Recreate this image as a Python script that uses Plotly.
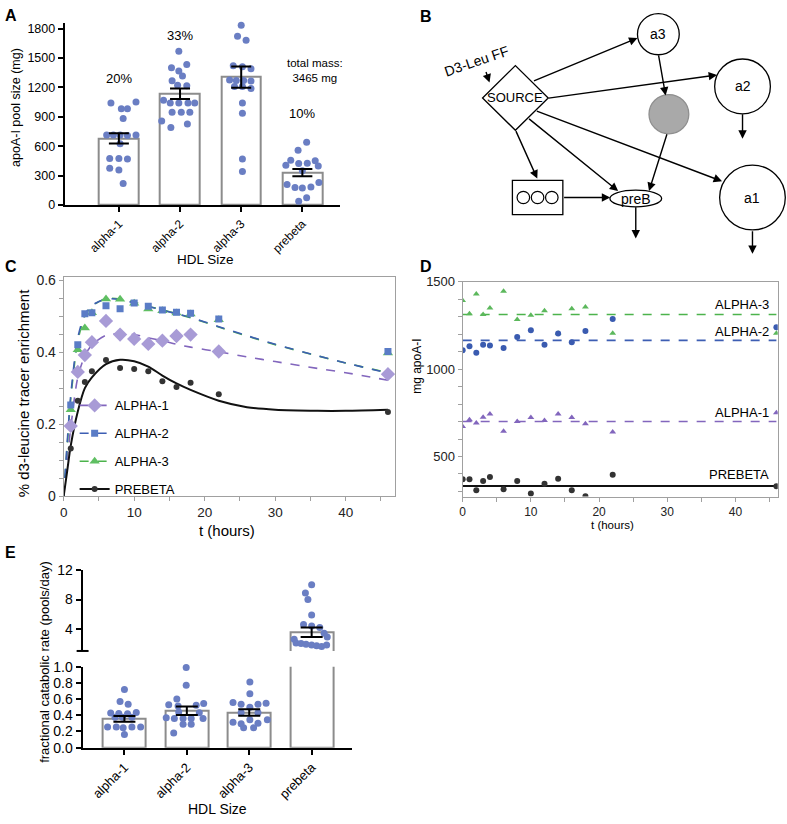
import plotly.graph_objects as go

W, H = 787, 824
FONT = "Arial, Liberation Sans, sans-serif"
DOT = "#6a7ec3"
BARLINE = "#8c8c8c"
GRAYAX = "#a0a0a0"


def px(x):
    return x / W


def py(y):
    return 1 - y / H


# ---------------- Panel A data ----------------
hdl_sizes = ["alpha-1", "alpha-2", "alpha-3", "prebeta"]
pool_mean = [680, 1135, 1305, 330]
pool_sem = [53, 53, 108, 37]
pool_share = ["20%", "33%", "38%", "10%"]
pool_share_y = [1290, 1730, 1960, 930]
pool_a1 = [1041, 982, 982, 1051, 882, 715, 715, 715, 709, 715, 625, 476, 476, 469, 359, 376, 220]
pool_a1_jit = [-0.13, 0.04, 0.14, 0.28, 0.07, -0.2, -0.09, 0.02, 0.14, 0.28, 0.02, -0.15, 0.0, 0.14, 0.0, -0.15, 0.07]
pool_a2 = [1570, 1401, 1367, 1434, 1317, 1268, 1218, 1221, 1068, 1041, 1041, 1041, 1041, 948, 948, 948, 858, 792, 828]
pool_a2_jit = [-0.02, -0.14, -0.02, 0.11, 0.04, -0.13, 0.11, -0.04, -0.27, -0.16, -0.02, 0.13, 0.24, -0.13, 0.02, 0.16, -0.3, -0.15, 0.12]
pool_a3 = [1833, 1723, 1680, 1420, 1410, 1390, 1275, 1270, 1270, 1265, 1210, 1210, 1190, 1040, 937, 469, 343]
pool_a3_jit = [0.0, -0.06, 0.08, -0.13, 0.02, 0.16, -0.19, -0.08, 0.04, 0.16, -0.11, 0.02, 0.16, 0.02, 0.02, 0.02, 0.02]
pool_pb = [640, 560, 457, 407, 423, 427, 453, 400, 350, 230, 210, 180, 175, 185, 75, 40]
pool_pb_jit = [0.07, -0.07, -0.19, -0.27, -0.06, 0.08, 0.21, 0.26, 0.0, 0.27, -0.25, -0.12, 0.0, 0.14, 0.07, -0.06]
total_mass = "total mass:<br>3465 mg"

# ---------------- Panel C data ----------------
c_time = [1, 2, 3, 4, 6, 8, 10, 12, 14, 16, 18, 22, 46]
c_alpha1 = [0.195, 0.345, 0.392, 0.428, 0.487, 0.449, 0.437, 0.423, 0.432, 0.445, 0.449, 0.402, 0.339]
c_alpha2 = [0.253, 0.421, 0.507, 0.510, 0.529, 0.521, 0.537, 0.528, 0.517, 0.511, 0.508, 0.492, 0.402]
c_alpha3 = [0.240, 0.407, 0.467, 0.510, 0.548, 0.547, 0.536, 0.520, 0.515, 0.509, 0.506, 0.490, 0.398]
c_prebeta = [0.132, 0.265, 0.317, 0.347, 0.378, 0.356, 0.353, 0.347, 0.319, 0.303, 0.315, 0.283, 0.234]
fit_time = [0, 0.5, 1, 2, 3, 4, 6, 8, 10, 12, 14, 16, 18, 22, 26, 30, 36, 40, 46]
fit_alpha1 = [0, 0.10, 0.19, 0.33, 0.39, 0.42, 0.447, 0.452, 0.449, 0.440, 0.432, 0.422, 0.414, 0.401, 0.387, 0.374, 0.355, 0.343, 0.322]
fit_alpha2 = [0, 0.15, 0.28, 0.44, 0.505, 0.53, 0.548, 0.546, 0.537, 0.527, 0.517, 0.507, 0.497, 0.471, 0.446, 0.422, 0.390, 0.370, 0.342]
fit_alpha3 = [0, 0.14, 0.27, 0.43, 0.50, 0.528, 0.549, 0.548, 0.539, 0.528, 0.518, 0.507, 0.496, 0.470, 0.445, 0.421, 0.390, 0.370, 0.343]
fit_prebeta = [0, 0.07, 0.14, 0.235, 0.30, 0.33, 0.367, 0.379, 0.375, 0.360, 0.335, 0.313, 0.295, 0.265, 0.247, 0.240, 0.237, 0.237, 0.240]
c_names = ["ALPHA-1", "ALPHA-2", "ALPHA-3", "PREBETA"]

# ---------------- Panel D data ----------------
d_time = [0, 1, 2, 3, 4, 6, 8, 10, 12, 14, 16, 18, 22, 46]
d_alpha3 = [1393, 1318, 1431, 1313, 1350, 1446, 1285, 1309, 1335, 1206, 1346, 1356, 1206, 1206]
d_alpha2 = [1109, 1131, 1094, 1140, 1135, 1122, 1185, 1223, 1140, 1204, 1154, 1219, 1287, 1240]
d_alpha1 = [672, 710, 691, 725, 743, 644, 700, 723, 706, 743, 723, 687, 640, 751]
d_prebeta = [369, 369, 307, 360, 382, 312, 360, 288, 344, 372, 307, 272, 395, 330]
d_mean = {"ALPHA-3": 1313, "ALPHA-2": 1165, "ALPHA-1": 700, "PREBETA": 331}

# ---------------- Panel E data ----------------
fcr_mean = [0.355, 0.456, 0.435, 3.55]
fcr_sem = [0.035, 0.053, 0.04, 0.65]
fcr_a1 = [0.718, 0.569, 0.536, 0.427, 0.423, 0.42, 0.435, 0.375, 0.375, 0.375, 0.254, 0.254, 0.246, 0.254, 0.254, 0.161]
fcr_a1_jit = [0.0, -0.07, 0.06, -0.22, -0.09, 0.05, 0.19, -0.15, -0.03, 0.12, -0.27, -0.13, -0.02, 0.12, 0.26, 0.0]
fcr_a2 = [0.99, 0.77, 0.60, 0.53, 0.515, 0.525, 0.545, 0.37, 0.36, 0.36, 0.36, 0.43, 0.29, 0.29, 0.18, 0.36, 0.44]
fcr_a2_jit = [-0.01, -0.01, -0.16, -0.29, -0.14, 0.15, 0.27, -0.33, -0.2, -0.06, 0.07, 0.2, -0.06, 0.07, -0.21, 0.26, -0.13]
fcr_a3 = [0.81, 0.665, 0.556, 0.536, 0.536, 0.548, 0.315, 0.294, 0.343, 0.302, 0.343, 0.246, 0.246, 0.43, 0.43, 0.50]
fcr_a3_jit = [0.01, 0.01, -0.26, -0.13, 0.14, 0.27, -0.26, -0.13, 0.01, 0.14, 0.29, -0.09, 0.07, -0.13, 0.14, 0.01]
fcr_pb = [10.0, 8.9, 8.0, 5.9, 4.6, 4.4, 4.2, 3.4, 2.9, 2.6, 2.1, 2.0, 1.9, 1.8, 1.7, 1.6, 1.8]
fcr_pb_jit = [0.0, -0.1, -0.06, 0.0, -0.13, 0.0, 0.13, 0.2, 0.25, -0.28, -0.25, -0.17, -0.09, 0.0, 0.08, 0.16, 0.24]

fig = go.Figure()


def jittered(i, jit):
    return [i + j for j in jit]


# ---- Panel A traces ----
fig.add_trace(go.Bar(x=list(range(4)), y=pool_mean, width=0.65, marker=dict(color="white", line=dict(color=BARLINE, width=2)),
                     xaxis="x", yaxis="y", showlegend=False))
for i, (vals, jit) in enumerate([(pool_a1, pool_a1_jit), (pool_a2, pool_a2_jit), (pool_a3, pool_a3_jit), (pool_pb, pool_pb_jit)]):
    fig.add_trace(go.Scatter(x=jittered(i, jit), y=vals, mode="markers", marker=dict(color=DOT, size=7),
                             xaxis="x", yaxis="y", showlegend=False, cliponaxis=False))
fig.add_trace(go.Scatter(x=list(range(4)), y=pool_mean, mode="markers", marker=dict(size=1, color="rgba(0,0,0,0)"),
                         error_y=dict(type="data", array=pool_sem, color="black", thickness=2, width=10),
                         xaxis="x", yaxis="y", showlegend=False))

# ---- Panel C traces ----
c_point_style = [
    dict(symbol="diamond", color="#a89bd6", size=11),
    dict(symbol="square", color="#5a7cc6", size=7),
    dict(symbol="triangle-up", color="#5fbf62", size=9),
    dict(symbol="circle", color="#333333", size=6),
]
c_line_style = [
    dict(color="#8266bd", width=1.6, dash="dash"),
    dict(color="#3d5eb3", width=1.6, dash="dash"),
    dict(color="#4cb34c", width=1.6, dash="dash"),
    dict(color="#111111", width=2),
]
for idx, fit in [(0, fit_alpha1), (2, fit_alpha3), (1, fit_alpha2), (3, fit_prebeta)]:
    fig.add_trace(go.Scatter(x=fit_time, y=fit, mode="lines", line=dict(shape="spline", smoothing=0.8, **c_line_style[idx]),
                             xaxis="x2", yaxis="y2", showlegend=False))
for idx, vals in [(2, c_alpha3), (0, c_alpha1), (1, c_alpha2), (3, c_prebeta)]:
    fig.add_trace(go.Scatter(x=c_time, y=vals, mode="markers", marker=c_point_style[idx],
                             xaxis="x2", yaxis="y2", showlegend=False))
for idx, name in enumerate(c_names):
    fig.add_trace(go.Scatter(x=[None], y=[None], mode="lines+markers", name=name, legendgroup=name,
                             marker=c_point_style[idx], line=c_line_style[idx], xaxis="x2", yaxis="y2", showlegend=True))

# ---- Panel D traces ----
d_series = [
    ("ALPHA-3", d_alpha3, dict(symbol="triangle-up", color="#5cb85c", size=6), dict(color="#4cb34c", width=1.6, dash="dash")),
    ("ALPHA-2", d_alpha2, dict(symbol="circle", color="#3a5bb0", size=6), dict(color="#3d5eb3", width=1.6, dash="dash")),
    ("ALPHA-1", d_alpha1, dict(symbol="triangle-up", color="#8266bd", size=6), dict(color="#8266bd", width=1.6, dash="dash")),
    ("PREBETA", d_prebeta, dict(symbol="circle", color="#333333", size=6), dict(color="#111111", width=2)),
]
for name, vals, mk, ln in d_series:
    fig.add_trace(go.Scatter(x=[d_time[0], d_time[-1]], y=[d_mean[name]] * 2, mode="lines", line=ln,
                             xaxis="x3", yaxis="y3", showlegend=False))
    fig.add_trace(go.Scatter(x=d_time, y=vals, mode="markers", marker=mk, xaxis="x3", yaxis="y3", showlegend=False))

# ---- Panel E traces ----
fig.add_trace(go.Bar(x=list(range(4)), y=fcr_mean, width=0.69, marker=dict(color="white", line=dict(color=BARLINE, width=2)),
                     xaxis="x4", yaxis="y4", showlegend=False))
fig.add_trace(go.Bar(x=[3], y=[fcr_mean[3]], width=0.69, marker=dict(color="white", line=dict(color=BARLINE, width=2)),
                     xaxis="x5", yaxis="y5", showlegend=False))
for i, (vals, jit) in enumerate([(fcr_a1, fcr_a1_jit), (fcr_a2, fcr_a2_jit), (fcr_a3, fcr_a3_jit)]):
    fig.add_trace(go.Scatter(x=jittered(i, jit), y=vals, mode="markers", marker=dict(color=DOT, size=7),
                             xaxis="x4", yaxis="y4", showlegend=False, cliponaxis=False))
fig.add_trace(go.Scatter(x=jittered(3, fcr_pb_jit), y=fcr_pb, mode="markers", marker=dict(color=DOT, size=7),
                         xaxis="x5", yaxis="y5", showlegend=False, cliponaxis=False))
fig.add_trace(go.Scatter(x=[0, 1, 2], y=fcr_mean[:3], mode="markers", marker=dict(size=1, color="rgba(0,0,0,0)"),
                         error_y=dict(type="data", array=fcr_sem[:3], color="black", thickness=2, width=11),
                         xaxis="x4", yaxis="y4", showlegend=False))
fig.add_trace(go.Scatter(x=[3], y=[fcr_mean[3]], mode="markers", marker=dict(size=1, color="rgba(0,0,0,0)"),
                         error_y=dict(type="data", array=[fcr_sem[3]], color="black", thickness=2, width=11),
                         xaxis="x5", yaxis="y5", showlegend=False))

# ---------------- Layout ----------------
blk = dict(showline=True, linecolor="black", linewidth=2, ticks="outside", ticklen=5, tickwidth=2, tickcolor="black",
           showgrid=False, zeroline=False, tickfont=dict(size=13, color="black"))
gry = dict(showline=True, linecolor=GRAYAX, linewidth=1, mirror=True, ticks="outside", ticklen=4, tickwidth=1,
           tickcolor=GRAYAX, showgrid=False, zeroline=False)

layout = dict(
    width=W, height=H, margin=dict(l=0, r=0, t=0, b=0), paper_bgcolor="white", plot_bgcolor="white",
    font=dict(family=FONT, color="black"), bargap=0,
    xaxis=dict(blk, domain=[px(61), px(338)], range=[-0.886, 3.62], anchor="y", tickvals=[0, 1, 2, 3],
               ticktext=hdl_sizes, tickangle=-45, tickfont=dict(size=12, color="black")),
    yaxis=dict(blk, domain=[py(201), py(15)], range=[0, 1860], anchor="x", tickvals=list(range(0, 1801, 300)),
               tickfont=dict(size=12.5, color="black")),
    xaxis2=dict(gry, domain=[px(60), px(393)], range=[0, 47], anchor="y2", dtick=10, tick0=0,
                minor=dict(dtick=5, ticks="outside", ticklen=4, tickcolor=GRAYAX), tickfont=dict(size=13.5, color="#222")),
    yaxis2=dict(gry, domain=[py(497.7), py(274)], range=[0, 0.61], anchor="x2", tickvals=[0, 0.2, 0.4, 0.6],
                ticktext=["0", "0.2", "0.4", "0.6"], minor=dict(dtick=0.05, tick0=0, ticks="outside", ticklen=4, tickcolor=GRAYAX),
                tickfont=dict(size=14, color="#222")),
    xaxis3=dict(gry, domain=[px(461), px(777.7)], range=[0, 46.2], anchor="y3", dtick=10, tick0=0,
                minor=dict(dtick=5, ticks="outside", ticklen=4, tickcolor=GRAYAX), tickfont=dict(size=12, color="#222")),
    yaxis3=dict(gry, domain=[py(498.3), py(279.3)], range=[270, 1500], anchor="x3", tickvals=[500, 1000, 1500],
                minor=dict(dtick=100, tick0=0, ticks="outside", ticklen=4, tickcolor=GRAYAX), tickfont=dict(size=13, color="#222")),
    xaxis4=dict(blk, domain=[px(79), px(350)], range=[-0.67, 3.65], anchor="y4", tickvals=[0, 1, 2, 3],
                ticktext=hdl_sizes, tickangle=-45),
    yaxis4=dict(blk, domain=[py(754.3), py(671.7)], range=[0, 1.0], anchor="x4", tickvals=[0, 0.2, 0.4, 0.6, 0.8, 1.0],
                tickformat=".1f", tickfont=dict(size=14, color="black")),
    xaxis5=dict(domain=[px(79), px(350)], range=[-0.67, 3.65], anchor="y5", visible=False),
    yaxis5=dict(blk, domain=[py(655.7), py(573.3)], range=[1, 12], anchor="x5", tickvals=[4, 8, 12],
                tickfont=dict(size=14, color="black")),
    legend=dict(x=px(71), y=py(390), xanchor="left", yanchor="top", font=dict(size=13, family=FONT),
                bgcolor="rgba(0,0,0,0)", tracegroupgap=8, traceorder="grouped", itemwidth=30),
)
fig.update_layout(**layout)

ann = []


def text(x, y, s, size=13, **kw):
    a = dict(x=px(x), y=py(y), xref="paper", yref="paper", text=s, showarrow=False, xanchor="center", yanchor="middle",
             font=dict(size=size, family=FONT, color="black"))
    a.update(kw)
    ann.append(a)


# panel letters
for letter, (lx, ly) in {"A": (7, 8), "B": (424, 9), "C": (7, 264), "D": (424, 264), "E": (7, 555)}.items():
    text(lx, ly, "<b>%s</b>" % letter, size=16)

# axis titles
text(12, 101, "apoA-I pool size (mg)", 12.5, textangle=-90)
text(203, 256, "HDL Size", 13.5)
text(19, 393, "% d3-leucine tracer enrichment", 15, textangle=-90)
text(224, 533, "t (hours)", 15)
text(415, 365, "mg apoA-I", 12, textangle=-90)
text(612, 527, "t (hours)", 11.5)
text(40, 667, "fractional catabolic rate (pools/day)", 13, textangle=-90)
text(215, 817, "HDL Size", 14)

# panel A labels
for i, (s, yv) in enumerate(zip(pool_share, pool_share_y)):
    ann.append(dict(x=i, y=yv, xref="x", yref="y", text=s, showarrow=False, xanchor="center", yanchor="middle",
                    font=dict(size=13, family=FONT)))
text(313, 64, total_mass, 11.5)

# panel D labels
for name, yy in [("ALPHA-3", 302), ("ALPHA-2", 330), ("ALPHA-1", 413), ("PREBETA", 476)]:
    text(771, yy, name, 13, xanchor="right")

# ---------------- Panel B diagram ----------------
shapes = []


def circle(cx, cy, r, fill="white", line="black", width=1.3):
    shapes.append(dict(type="circle", xref="paper", yref="paper", x0=px(cx - r), x1=px(cx + r), y0=py(cy + r), y1=py(cy - r),
                       fillcolor=fill, line=dict(color=line, width=width)))


nodes = {"a3": (657.7, 26.7, 21), "a2": (742.3, 80, 28), "a1": (752.3, 193.3, 33)}
for name, (cx, cy, r) in nodes.items():
    circle(cx, cy, r)
    text(cx, cy, name, 14)
circle(668.3, 108.3, 20, fill="#a9a9a9", line="#8f8f8f")
# diamond SOURCE
dc = (514, 91.7, 33)
shapes.append(dict(type="path", xref="paper", yref="paper",
                   path="M %f %f L %f %f L %f %f L %f %f Z" % (px(dc[0] - dc[2]), py(dc[1]), px(dc[0]), py(dc[1] - dc[2]),
                                                               px(dc[0] + dc[2]), py(dc[1]), px(dc[0]), py(dc[1] + dc[2])),
                   fillcolor="white", line=dict(color="black", width=1.3)))
text(dc[0], dc[1], "SOURCE", 13)
# box with three small circles
shapes.append(dict(type="rect", xref="paper", yref="paper", x0=px(511), x1=px(561.7), y0=py(210.7), y1=py(175.7),
                   fillcolor="white", line=dict(color="black", width=1.3)))
for cx in (522, 536.3, 550.6):
    circle(cx, 193.3, 6.3, width=1.2)
# preB ellipse
shapes.append(dict(type="circle", xref="paper", yref="paper", x0=px(609), x1=px(661), y0=py(202.8), y1=py(185.8),
                   fillcolor="white", line=dict(color="black", width=1.3)))
text(635, 194.3, "preB", 14)
text(475, 54, "D3-Leu FF", 14, textangle=-19)

arrows = [
    ((531.7, 74), (636.7, 30.7)),
    ((546.7, 91.7), (716.7, 68.3)),
    ((535, 106), (721.7, 176.7)),
    ((514, 125), (536, 174)),
    ((526.7, 113.3), (617.3, 186.7)),
    ((657.7, 47.7), (665, 89.3)),
    ((666.7, 128.3), (648.3, 186.7)),
    ((561.7, 193.3), (609.3, 193.3)),
    ((742.3, 107.3), (742.3, 133.3)),
    ((635, 202.3), (635, 235)),
    ((752.3, 226.7), (752.3, 250.7)),
    ((484, 64), (488, 76)),
]
for (tx, ty), (hx, hy) in arrows:
    ann.append(dict(x=px(hx), y=py(hy), xref="paper", yref="paper", ax=tx - hx, ay=ty - hy, text="", showarrow=True,
                    arrowhead=2, arrowsize=1.2, arrowwidth=1.4, arrowcolor="black", standoff=0, startstandoff=0))

# axis-break tick on panel E
shapes.append(dict(type="line", xref="paper", yref="paper", x0=px(73), x1=px(85), y0=py(655.7), y1=py(655.7),
                   line=dict(color="black", width=2)))

fig.update_layout(annotations=ann, shapes=shapes)
fig.write_html("out.html", config={"displayModeBar": False},
               post_script="document.body.style.margin='0px';document.body.style.overflow='hidden';")
